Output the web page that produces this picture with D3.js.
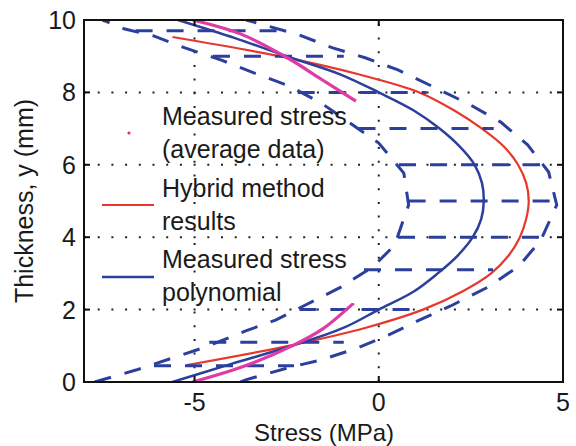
<!DOCTYPE html>
<html>
<head>
<meta charset="utf-8">
<script src="https://cdn.jsdelivr.net/npm/d3@7"></script>
<style>
  body { margin: 0; background: #fff; }
  text { font-family: "Liberation Sans", Arial, sans-serif; fill: #1a1a1a; }
</style>
</head>
<body>
<div id="plot"></div>
<script>
// axis ticks
const xTicks = [-5, 0, 5];
const yTicks = [0, 2, 4, 6, 8, 10];

// hybrid method results (red)
const hybridY = [0.47, 1.0, 1.5, 2.0, 2.5, 3.0, 3.5, 4.0, 4.5, 5.0, 5.5, 6.0, 6.5, 7.0, 7.5, 8.0, 8.5, 9.0, 9.53];
const hybridX = [-5.2, -2.45, -0.35, 1.2, 2.27, 3.05, 3.53, 3.83, 4.0, 4.07, 4.0, 3.78, 3.4, 2.8, 2.05, 1.1, -0.55, -2.7, -5.6];

// measured stress polynomial (blue)
const polyY = [0, 0.5, 1, 1.5, 2, 2.5, 3, 3.5, 4, 4.5, 5, 5.5, 6, 6.5, 7, 7.5, 8, 8.5, 9, 9.5, 10];
const polyX = [-5.6, -4.0, -2.35, -0.95, 0.0, 0.95, 1.6, 2.15, 2.55, 2.78, 2.85, 2.8, 2.6, 2.2, 1.65, 0.95, 0.0, -1.05, -2.5, -3.9, -5.45];

// measured stress, average data (magenta), top and bottom parts
const measTopY = [10, 9.61, 8.95, 8.37, 7.76];
const measTopX = [-5.05, -3.74, -2.47, -1.57, -0.62];
const measBotY = [0, 0.42, 1.02, 1.49, 2.18];
const measBotX = [-5.05, -3.7, -2.31, -1.49, -0.68];

// dashed bounds
const upperY = [0, 0.06, 0.39, 0.61, 0.94, 1.30, 1.66, 2.10, 2.62, 3.20, 3.92, 4.89, 5.80, 6.55, 7.18, 7.68, 8.12, 8.62, 8.95, 9.23, 9.59, 9.94, 10];
const upperX = [-3.75, -3.61, -2.47, -1.57, -0.57, 0.27, 1.00, 1.95, 2.96, 3.80, 4.40, 4.83, 4.61, 4.04, 3.31, 2.44, 1.55, 0.52, -0.35, -1.25, -2.17, -3.39, -3.6];
const lowerY = [0, 0.33, 0.97, 1.41, 1.71, 2.62, 3.18, 3.78, 4.89, 5.77, 6.60, 7.71, 8.18, 8.54, 8.90, 9.23, 9.56, 9.75, 9.94, 10];
const lowerX = [-7.71, -6.59, -4.69, -3.61, -2.80, -1.03, -0.16, 0.43, 0.81, 0.68, 0.0, -1.57, -2.44, -3.39, -4.29, -5.26, -6.11, -6.89, -7.35, -7.5];

// horizontal dashed bars
const barY = [0.45, 1.1, 2.0, 3.1, 4.0, 5.0, 6.0, 7.0, 8.0, 9.0, 9.7];
const barLo = [-6.1, -4.6, -2.15, -0.4, 0.52, 0.81, 0.55, -0.55, -2.2, -4.5, -6.6];
const barHi = [-2.3, -0.95, 0.87, 3.1, 4.6, 4.86, 4.55, 3.12, 1.3, -0.95, -2.6];

const blue = "#2c3f9c", red = "#e8372c", magenta = "#e03aa6";

const svg = d3.select("div#plot")
  .append("svg")
    .attr("width", 576)
    .attr("height", 446);

const xScale = d3.scaleLinear().domain([-8, 5]).range([84, 563]);
const yScale = d3.scaleLinear().domain([0, 10]).range([382, 20]);

svg.append("clipPath").attr("id", "clip")
  .append("rect")
    .attr("x", 84).attr("y", 20)
    .attr("width", 479).attr("height", 362);

// grid
const grid = svg.append("g")
  .attr("stroke", "#222")
  .attr("stroke-width", 2)
  .attr("stroke-dasharray", "2,11.7");

grid.selectAll(".gx")
  .data(xTicks.filter(d => d > -8 && d < 5))
  .enter().append("line")
    .attr("x1", d => xScale(d)).attr("x2", d => xScale(d))
    .attr("y1", 382).attr("y2", 20);

grid.selectAll(".gy")
  .data(yTicks.filter(d => d > 0 && d < 10))
  .enter().append("line")
    .attr("y1", d => yScale(d)).attr("y2", d => yScale(d))
    .attr("x1", 84).attr("x2", 563);

const plot = svg.append("g").attr("clip-path", "url(#clip)");

const line = d3.line()
  .x(d => xScale(d[0]))
  .y(d => yScale(d[1]));

const smooth = d3.line()
  .x(d => xScale(d[0]))
  .y(d => yScale(d[1]))
  .curve(d3.curveCatmullRom);

const pairs = (xs, ys) => xs.map((v, i) => [v, ys[i]]);

// red hybrid
plot.append("path")
  .attr("d", smooth(pairs(hybridX, hybridY)))
  .attr("fill", "none")
  .attr("stroke", red)
  .attr("stroke-width", 2.2);

// blue polynomial
plot.append("path")
  .attr("d", smooth(pairs(polyX, polyY)))
  .attr("fill", "none")
  .attr("stroke", blue)
  .attr("stroke-width", 2.5);

// dashed bounds and bars
const dashed = plot.append("g")
  .attr("fill", "none")
  .attr("stroke", blue)
  .attr("stroke-width", 3)
  .attr("stroke-dasharray", "17,14");

dashed.append("path").attr("d", line(pairs(upperX, upperY)));
dashed.append("path").attr("d", line(pairs(lowerX, lowerY)));

dashed.selectAll(".bar")
  .data(barY)
  .enter().append("line")
    .attr("x1", (d, i) => xScale(barLo[i]))
    .attr("x2", (d, i) => xScale(barHi[i]))
    .attr("y1", d => yScale(d))
    .attr("y2", d => yScale(d));

// magenta measured
plot.append("path")
  .attr("d", smooth(pairs(measTopX, measTopY)))
  .attr("fill", "none")
  .attr("stroke", magenta)
  .attr("stroke-width", 3.2);

plot.append("path")
  .attr("d", smooth(pairs(measBotX, measBotY)))
  .attr("fill", "none")
  .attr("stroke", magenta)
  .attr("stroke-width", 3.2);

// frame and ticks
svg.append("rect")
  .attr("x", 84).attr("y", 20)
  .attr("width", 479).attr("height", 362)
  .attr("fill", "none")
  .attr("stroke", "#111")
  .attr("stroke-width", 2);

const ticks = svg.append("g").attr("stroke", "#111").attr("stroke-width", 2);
xTicks.forEach(t => {
  ticks.append("line").attr("x1", xScale(t)).attr("x2", xScale(t)).attr("y1", 382).attr("y2", 376);
  ticks.append("line").attr("x1", xScale(t)).attr("x2", xScale(t)).attr("y1", 20).attr("y2", 26);
});
yTicks.forEach(t => {
  ticks.append("line").attr("y1", yScale(t)).attr("y2", yScale(t)).attr("x1", 84).attr("x2", 90);
  ticks.append("line").attr("y1", yScale(t)).attr("y2", yScale(t)).attr("x1", 563).attr("x2", 557);
});

svg.selectAll(".xtl")
  .data(xTicks)
  .enter().append("text")
    .attr("x", d => xScale(d))
    .attr("y", 411)
    .attr("text-anchor", "middle")
    .style("font-size", "25px")
    .text(d => d);

svg.selectAll(".ytl")
  .data(yTicks)
  .enter().append("text")
    .attr("x", 76)
    .attr("y", d => yScale(d) + 9)
    .attr("text-anchor", "end")
    .style("font-size", "25px")
    .text(d => d);

svg.append("text")
  .attr("x", 324)
  .attr("y", 441)
  .attr("text-anchor", "middle")
  .style("font-size", "24px")
  .text("Stress (MPa)");

svg.append("text")
  .attr("transform", "translate(33, 201) rotate(-90)")
  .attr("text-anchor", "middle")
  .style("font-size", "25px")
  .text("Thickness, y (mm)");

// legend
const legend = svg.append("g");
const legendRows = [
  { lines: ["Measured stress", "(average data)"], y: 125 },
  { lines: ["Hybrid method", "results"], y: 197 },
  { lines: ["Measured stress", "polynomial"], y: 268 }
];
legendRows.forEach(r => {
  r.lines.forEach((s, j) => {
    legend.append("text")
      .attr("x", 162)
      .attr("y", r.y + j * 33)
      .style("font-size", "25px")
      .text(s);
  });
});
legend.append("circle")
  .attr("cx", 129).attr("cy", 133).attr("r", 1.6)
  .attr("fill", "#e0306a");
legend.append("line")
  .attr("x1", 102).attr("x2", 154).attr("y1", 205).attr("y2", 205)
  .attr("stroke", red).attr("stroke-width", 2.2);
legend.append("line")
  .attr("x1", 102).attr("x2", 154).attr("y1", 277).attr("y2", 277)
  .attr("stroke", blue).attr("stroke-width", 2.5);
</script>
</body>
</html>
